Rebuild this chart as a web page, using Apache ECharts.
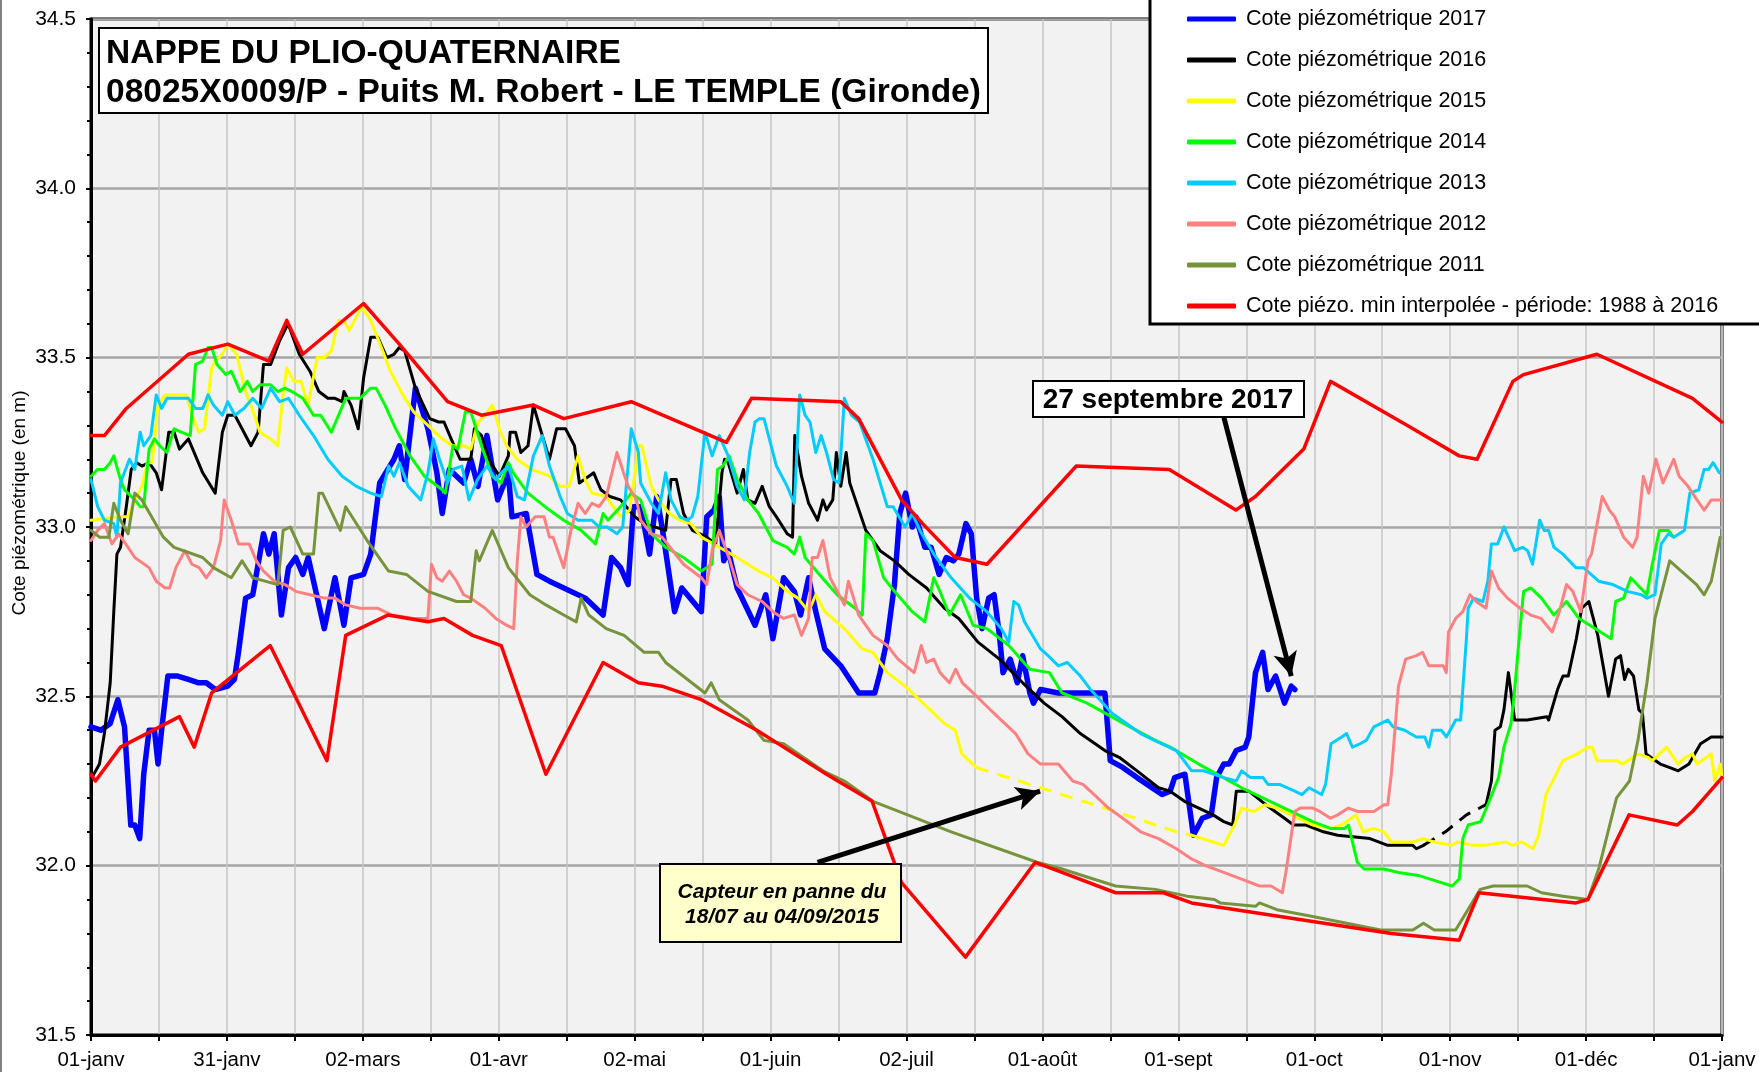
<!DOCTYPE html>
<html>
<head>
<meta charset="utf-8">
<title>Nappe du Plio-Quaternaire - Le Temple</title>
<script src="https://cdn.jsdelivr.net/npm/echarts@6/dist/echarts.min.js"></script>
<style>
    html, body { margin: 0; padding: 0; background: #ffffff; }
    #graphe { width: 1759px; height: 1072px; }
</style>
</head>
<body>
<div id="graphe"></div>
<script>
// axe des x : jours depuis le 01-janv (0 -> 365)
var etiquettesMois = ['01-janv', '31-janv', '02-mars', '01-avr', '02-mai', '01-juin', '02-juil',
    '01-août', '01-sept', '01-oct', '01-nov', '01-déc', '01-janv'];

var nomsLegende = ['Cote piézométrique 2017', 'Cote piézométrique 2016', 'Cote piézométrique 2015',
    'Cote piézométrique 2014', 'Cote piézométrique 2013', 'Cote piézométrique 2012',
    'Cote piézométrique 2011', 'Cote piézo. min interpolée - période: 1988 à 2016'];

// [jour, cote en m]
var cote2017 = [[0,32.41],[2.2,32.40],[4.3,32.42],[6,32.49],[7.5,32.41],[8.9,32.12],[9.8,32.12],[10.9,32.08],[11.8,32.27],[13,32.40],[14.2,32.40],[15,32.30],[15.8,32.40],[17.2,32.56],[19.4,32.56],[21.8,32.55],[24.1,32.54],[25.8,32.54],[27.8,32.52],[30.6,32.53],[32.1,32.55],[33,32.63],[34.6,32.79],[36.2,32.80],[37.4,32.89],[38.6,32.98],[39.8,32.92],[41,32.98],[42.6,32.74],[44.2,32.88],[45.8,32.91],[47.4,32.86],[48.6,32.91],[52.2,32.70],[54.6,32.85],[56.6,32.71],[58.2,32.85],[61,32.86],[62.6,32.92],[64.6,33.13],[67.8,33.20],[69,33.24],[70.2,33.14],[72.6,33.41],[75.4,33.29],[77.4,33.16],[78.6,33.04],[80.2,33.17],[83.4,33.13],[85,33.20],[86.6,33.12],[88.6,33.27],[91,33.08],[93.4,33.16],[94.2,33.03],[97.4,33.04],[99.8,32.86],[102.6,32.84],[110.6,32.79],[114.6,32.74],[116.5,32.91],[118.5,32.88],[120.2,32.83],[121.4,33.06],[123,33.06],[125,32.92],[126.6,33.09],[127.8,33.0],[130.6,32.75],[132.2,32.82],[136.6,32.75],[137.8,33.03],[139.4,33.05],[140.6,33.09],[141.6,32.90],[142.6,32.93],[144.6,32.82],[148.6,32.71],[151,32.80],[152.6,32.67],[155,32.85],[157.4,32.81],[158.8,32.74],[160.6,32.85],[162.2,32.75],[164.2,32.64],[167.8,32.59],[171.8,32.51],[175.4,32.51],[176.6,32.57],[178.2,32.67],[179.8,32.83],[181,33.04],[182.3,33.10],[183.8,33.0],[184.6,33.03],[186.6,32.94],[188,32.94],[189.8,32.86],[191.4,32.91],[193,32.90],[194.2,32.92],[195.8,33.01],[197,32.98],[198.2,32.79],[199.4,32.70],[200.9,32.79],[202.1,32.80],[203.3,32.68],[204.1,32.57],[205.7,32.61],[207.3,32.54],[208.5,32.62],[210.1,32.51],[210.9,32.48],[212.5,32.52],[216.5,32.51],[226.9,32.51],[228.1,32.31],[230.9,32.29],[234.1,32.26],[239.7,32.21],[241.5,32.22],[242.5,32.26],[244.8,32.27],[246.7,32.09],[248.7,32.14],[250.7,32.15],[251.9,32.26],[253.5,32.30],[254.7,32.30],[256.3,32.34],[258.3,32.35],[259.1,32.38],[260.6,32.57],[262.2,32.63],[263.4,32.52],[265.1,32.56],[267.1,32.48],[268.6,32.53],[269.4,32.52]];

var cote2016 = [[0.2,32.26],[1.9,32.30],[3,32.39],[4.3,32.54],[5.1,32.75],[5.8,32.92],[6.6,32.94],[7.9,33.06],[9,33.17],[10.2,33.19],[11.4,33.18],[13,33.19],[14.6,33.16],[15.8,33.11],[17.4,33.28],[18.6,33.28],[19.8,33.23],[21.8,33.26],[25,33.16],[27.8,33.10],[29.4,33.28],[30.6,33.33],[32.2,33.33],[33.8,33.29],[35.8,33.24],[37.4,33.28],[38.6,33.48],[40.2,33.48],[42.2,33.55],[44.1,33.60],[46.6,33.51],[49,33.46],[51,33.40],[53,33.38],[54.6,33.38],[56.2,33.37],[56.6,33.40],[58.2,33.36],[59.8,33.29],[61,33.44],[62.6,33.56],[64.2,33.56],[66.2,33.50],[67.8,33.51],[69,33.53],[70.2,33.52],[72.6,33.41],[75.8,33.32],[77.8,33.31],[79,33.31],[80.6,33.26],[82.6,33.20],[85,33.20],[85.8,33.29],[87.4,33.27],[89,33.20],[91.4,33.15],[93.4,33.21],[93.8,33.28],[95,33.28],[96.2,33.22],[97.8,33.24],[99,33.36],[101,33.27],[102.6,33.20],[104.2,33.29],[106.2,33.29],[108.2,33.24],[109.3,33.13],[112.5,33.16],[114.1,33.11],[116.1,33.09],[118.5,33.08],[121.7,33.03],[123.8,33.01],[128.6,32.99],[129.8,33.14],[131,33.14],[132.6,33.04],[134.6,32.99],[137.8,32.97],[139.8,32.95],[141.2,33.16],[141.8,33.20],[142.6,33.19],[144.6,33.10],[146,33.17],[147,33.08],[148.6,33.07],[150.2,33.12],[151.8,33.06],[153.4,33.03],[155.8,32.98],[157,32.97],[157.5,33.27],[159,33.15],[160.6,33.07],[162.6,33.02],[163.8,33.08],[164.6,33.05],[166,33.08],[166.8,33.22],[167.8,33.12],[169,33.22],[169.8,33.13],[173.4,32.99],[176.6,32.93],[179.8,32.90],[183,32.86],[187,32.82],[191,32.76],[194.2,32.73],[198.5,32.66],[203.3,32.61],[208.5,32.54],[213.3,32.48],[217.3,32.44],[221.4,32.39],[226.9,32.34],[230.1,32.32],[234.1,32.28],[238.9,32.23],[241.5,32.22],[244.7,32.19],[247.9,32.17],[251.1,32.15],[253.5,32.13],[255.5,32.12],[256.3,32.22],[259.1,32.22],[263.9,32.17],[267.1,32.14],[269.1,32.12],[271.9,32.12],[275.8,32.10],[279,32.09],[286.2,32.08],[290.2,32.06],[295.8,32.06],[296.6,32.05],[298.2,32.06],null,[312.2,32.18],[313.4,32.25],[314.2,32.40],[315.4,32.41],[316.2,32.46],[317.2,32.57],[318.6,32.43],[321.4,32.43],[325.8,32.44],[326.2,32.43],[328.2,32.52],[329.4,32.56],[330.6,32.56],[332.4,32.67],[333.6,32.76],[335.2,32.78],[337.2,32.68],[339.6,32.50],[341.2,32.61],[342.3,32.62],[343.2,32.55],[344,32.58],[345.2,32.56],[346.4,32.46],[347.2,32.45],[348,32.33],[351.2,32.30],[353.2,32.29],[355.2,32.28],[357.6,32.30],[360.2,32.36],[362.6,32.38],[365,32.38]];
var panne2016 = [[298.2,32.06],[303.1,32.10],[307.8,32.15],[312.2,32.18]];

var cote2015 = [[0,33.02],[6.2,33.03],[8.3,33.03],[9.8,33.08],[11.4,33.12],[12.6,33.19],[13.7,33.19],[15,33.36],[16.6,33.39],[19.4,33.39],[21.4,33.39],[22.6,33.33],[24.1,33.28],[25.4,33.29],[27,33.47],[27.8,33.49],[29.4,33.51],[30.6,33.54],[32.6,33.51],[34.6,33.40],[36.6,33.33],[37.8,33.28],[40.2,33.26],[41.8,33.24],[43,33.39],[43.8,33.47],[45.4,33.43],[47,33.43],[48.6,33.36],[50.6,33.50],[52.2,33.50],[53.8,33.52],[55.4,33.61],[56.6,33.61],[57.8,33.58],[60.6,33.65],[62.6,33.61],[65,33.53],[67,33.46],[69.8,33.39],[72.2,33.34],[75.4,33.30],[78.6,33.26],[81,33.24],[83.4,33.24],[85,33.23],[86.6,33.31],[88.2,33.33],[89.8,33.36],[91.4,33.29],[93,33.24],[95.4,33.20],[98.6,33.17],[102.6,33.15],[105,33.12],[107,33.12],[109,33.21],[110.6,33.14],[112.1,33.10],[115.3,33.09],[118.5,33.03],[120.6,33.05],[122.6,33.24],[123.3,33.24],[125.4,33.12],[127,33.08],[129.4,33.04],[131.8,33.02],[134.2,33.01],[136.6,32.97],[140.6,32.94],[144.6,32.91],[149.4,32.87],[152.6,32.85],[155.8,32.81],[158.2,32.79],[160.6,32.75],[162.2,32.80],[164.2,32.75],[168.6,32.70],[172.6,32.64],[175,32.63],[178.2,32.57],[182.2,32.53],[187,32.47],[191,32.42],[193.4,32.40],[194.9,32.33],[198.1,32.29],null,[246.3,32.09],[248.7,32.08],[251.1,32.07],[253.5,32.06],[254.7,32.09],[255.9,32.12],[257.5,32.17],[260.3,32.16],[262.7,32.18],[265.4,32.17],[268.6,32.15],[273.5,32.12],[277.5,32.11],[279.9,32.12],[283.1,32.15],[284.7,32.10],[287.1,32.11],[289.4,32.10],[291,32.07],[295.8,32.07],[298.2,32.08],[300.6,32.07],[304.6,32.06],[305.8,32.07],[309.4,32.06],[311.9,32.06],[316.7,32.07],[318.1,32.06],[320.2,32.07],[322.7,32.05],[324,32.09],[325.6,32.21],[329.4,32.31],[332.6,32.33],[335,32.35],[336,32.35],[337,32.31],[341.4,32.31],[342.8,32.30],[346.2,32.33],[348.4,32.32],[349.4,32.31],[351,32.33],[352.6,32.35],[355.2,32.30],[356.8,32.32],[358.4,32.33],[359.4,32.30],[362.6,32.33],[363.4,32.25],[364.6,32.30],[365,32.26]];
var panne2015 = [[198.1,32.29],[212.5,32.23],[226.9,32.17],[242.9,32.10],[246.3,32.09]];

var cote2014 = [[0,33.15],[1.5,33.17],[3,33.17],[4.3,33.19],[5.1,33.21],[6.6,33.14],[7.5,33.11],[9.8,33.08],[11,33.06],[11.8,33.06],[13,33.23],[14.2,33.26],[15.4,33.24],[17,33.22],[18.6,33.29],[20.2,33.28],[22.2,33.27],[23.4,33.48],[25,33.49],[26.2,33.53],[27,33.53],[28.2,33.48],[30.2,33.45],[31.4,33.46],[33.4,33.40],[35,33.43],[36.2,33.40],[37.8,33.42],[40.2,33.42],[41.8,33.40],[43.4,33.41],[45,33.40],[47.4,33.38],[49.8,33.33],[51.4,33.33],[53.8,33.28],[55.4,33.33],[57,33.38],[60.2,33.38],[62.6,33.41],[63.8,33.41],[65.8,33.36],[68.2,33.29],[71.4,33.21],[74.6,33.15],[78.6,33.11],[79.3,33.10],[81,33.24],[82.1,33.23],[83.8,33.34],[85,33.34],[87.4,33.24],[89.8,33.15],[91.8,33.13],[93.4,33.19],[94.5,33.16],[97.8,33.10],[102.6,33.05],[105.8,33.02],[109.7,32.99],[112.9,32.95],[114.6,33.04],[115.7,33.02],[118.5,33.06],[120.9,33.10],[123,33.08],[125.4,32.98],[128.6,32.94],[132.6,32.91],[136.6,32.87],[139,32.89],[140.2,33.17],[141.4,33.18],[142.8,33.21],[144.6,33.14],[147,33.08],[149.4,33.04],[152.6,32.96],[155.8,32.94],[157.4,32.92],[158.6,32.97],[159.8,32.91],[163,32.86],[167,32.80],[171,32.76],[172.6,32.74],[173.4,32.98],[175,32.96],[177.4,32.85],[179.8,32.81],[183.8,32.75],[186.6,32.72],[188.6,32.85],[190,32.81],[192.1,32.74],[194.6,32.80],[197.4,32.71],[200.5,32.70],[205.4,32.65],[210.1,32.58],[214.5,32.57],[217.3,32.51],[222.9,32.48],[232.5,32.41],[238.2,32.37],[241.5,32.35],[247.9,32.30],[257.5,32.23],[265.4,32.18],[273.4,32.13],[277.4,32.11],[280.6,32.11],[281.4,32.12],[283.4,32.01],[284.9,31.99],[289.4,31.99],[292.6,31.98],[297.4,31.97],[302.2,31.95],[304.6,31.94],[306.2,31.96],[307,32.08],[308.2,32.12],[311,32.13],[312.6,32.18],[315,32.26],[316.2,32.35],[317.8,32.42],[318.6,32.52],[319.4,32.64],[320.6,32.81],[322.2,32.82],[324.6,32.79],[327.4,32.74],[330.2,32.78],[333,32.73],[336.6,32.70],[340.2,32.67],[341.2,32.78],[343,32.79],[344.6,32.85],[348.2,32.80],[349.4,32.89],[351,32.99],[353,32.99],[354.2,32.97]];

var cote2013 = [[0,33.14],[1.5,33.06],[3,33.02],[5.1,33.01],[5.8,32.97],[6.6,33.13],[8.6,33.20],[9.8,33.17],[11,33.28],[11.8,33.24],[13.4,33.27],[14.6,33.39],[15.8,33.35],[17,33.38],[19.4,33.38],[21.8,33.38],[23.4,33.35],[25,33.35],[26.2,33.39],[27.4,33.36],[29.4,33.33],[30.6,33.37],[32.2,33.33],[34.2,33.35],[36.2,33.38],[38.2,33.35],[40.2,33.41],[42.2,33.37],[44.2,33.38],[46.6,33.33],[49.8,33.27],[53,33.20],[56.2,33.15],[59.4,33.12],[62.6,33.10],[65,33.09],[66.6,33.18],[67.8,33.15],[69,33.19],[71,33.12],[73.8,33.08],[75.4,33.16],[76.6,33.26],[78,33.20],[79.8,33.13],[81,33.17],[83,33.18],[84.6,33.08],[86.5,33.14],[88.6,33.18],[90.6,33.14],[91.8,33.16],[93.4,33.18],[95.4,33.09],[97,33.08],[99,33.21],[101,33.27],[102.6,33.18],[105,33.09],[106.6,33.04],[109,33.02],[112.1,33.02],[113.7,33.00],[115.5,33.00],[117.7,32.98],[119,33.0],[120.9,33.29],[122.5,33.22],[123,33.13],[125.4,33.07],[127,33.04],[128.6,33.16],[129.8,33.08],[131.8,33.03],[133.4,33.02],[134.5,33.03],[135.8,33.09],[137.4,33.28],[139,33.21],[140.6,33.27],[142.6,33.21],[144.6,33.12],[146.2,33.08],[147.4,33.22],[148.6,33.31],[149.6,33.32],[150.6,33.32],[151.8,33.26],[153.4,33.18],[155.8,33.12],[157.4,33.07],[158.6,33.39],[159.8,33.33],[160.9,33.31],[162.2,33.22],[163.4,33.27],[164.6,33.22],[166.2,33.14],[167.4,33.13],[168.6,33.38],[170.2,33.33],[172,33.31],[175,33.20],[178.2,33.06],[179.5,33.06],[182.2,33.00],[183.8,33.04],[185.5,32.99],[188.6,32.92],[192.5,32.85],[196.6,32.79],[200.5,32.75],[203.7,32.70],[205.4,32.66],[206.5,32.78],[207.6,32.77],[208.9,32.72],[212.5,32.64],[214.2,32.62],[216.5,32.59],[218.5,32.60],[221.4,32.56],[223.7,32.52],[228.5,32.45],[234.9,32.39],[238,32.37],[242.9,32.34],[246.3,32.28],[249,32.28],[253.5,32.26],[256.3,32.25],[257.5,32.28],[259.5,32.26],[262.3,32.26],[263.4,32.24],[266,32.24],[269.4,32.22],[271,32.21],[272.6,32.23],[275.4,32.21],[276.3,32.24],[277.5,32.36],[279.9,32.38],[281,32.39],[282.3,32.35],[284,32.36],[285.4,32.37],[287.1,32.41],[290.2,32.43],[291.4,32.41],[294,32.40],[296.6,32.38],[298.5,32.38],[299.4,32.35],[300.2,32.40],[302.2,32.40],[303.3,32.38],[304.6,32.41],[305.4,32.43],[306.5,32.43],[307.8,32.67],[308.2,32.76],[309.4,32.79],[311.5,32.78],[312.6,32.84],[313.4,32.95],[314.8,32.95],[316.2,33.0],[317.6,32.96],[318.6,32.93],[320.4,32.94],[321.5,32.93],[322.6,32.89],[324.2,33.02],[325.2,32.99],[326.2,32.99],[327.4,32.94],[329.4,32.92],[332.3,32.88],[334,32.88],[337.4,32.84],[340.6,32.83],[343.8,32.81],[347,32.80],[348.2,32.79],[350,32.80],[351.4,32.95],[353,32.98],[354.2,32.97],[356.6,32.99],[357.8,33.10],[359.8,33.11],[361,33.17],[362,33.17],[363,33.19],[364.4,33.16]];

var cote2012 = [[0,32.96],[1.5,32.99],[3,33.01],[4.7,32.95],[6.2,32.98],[8.3,32.94],[9.8,32.91],[13,32.88],[14.6,32.84],[16.6,32.82],[17.6,32.82],[19,32.88],[21,32.93],[22.6,32.89],[24.2,32.88],[25.8,32.85],[27.4,32.88],[29,32.96],[29.8,33.08],[31.4,33.02],[33,32.95],[34,32.95],[35.4,32.95],[37,32.90],[38.6,32.87],[41,32.84],[43.4,32.83],[45.8,32.81],[49,32.80],[52.2,32.79],[54.6,32.79],[57,32.77],[60.2,32.76],[64.2,32.76],[67.4,32.74],[72.2,32.73],[75.4,32.73],[76.2,32.89],[77.4,32.85],[78.6,32.84],[80.2,32.87],[81.8,32.84],[83.4,32.80],[85,32.79],[88.2,32.76],[90.6,32.73],[93,32.71],[94.6,32.70],[95.4,32.90],[96.2,33.03],[97.4,33.0],[99.4,33.03],[101.4,33.03],[102.6,32.97],[103.4,32.97],[105.8,32.88],[107.4,32.99],[109,33.07],[110.6,33.04],[112.1,33.07],[113.7,33.06],[115.3,33.09],[117.7,33.22],[120.2,33.12],[122.1,33.08],[123,33.02],[125.4,32.98],[127.8,32.97],[130.2,32.93],[132.6,32.89],[136.6,32.85],[137.8,32.83],[139,32.93],[140.6,32.99],[143,32.90],[144.6,32.83],[147,32.80],[150.2,32.78],[152.6,32.75],[155,32.73],[157.4,32.74],[159,32.68],[160.6,32.73],[161.4,32.91],[162.6,32.91],[163.8,32.96],[165.4,32.85],[168.6,32.77],[169.5,32.84],[171.8,32.74],[175,32.68],[178.2,32.65],[180.6,32.61],[184.2,32.57],[185.8,32.65],[187,32.60],[188.6,32.61],[190,32.57],[192.1,32.54],[193.5,32.58],[195,32.54],[197.4,32.51],[200.5,32.47],[203.7,32.43],[206.9,32.39],[209.7,32.33],[212.5,32.30],[216.5,32.30],[219.7,32.25],[222,32.24],[224.5,32.21],[227.7,32.17],[230.9,32.14],[234.9,32.10],[238.9,32.08],[242.9,32.05],[246.3,32.02],[249.4,32.0],[253.5,31.98],[257.5,31.96],[261.5,31.94],[264.1,31.94],[266.6,31.92],[267.4,31.98],[269.4,32.16],[270.6,32.17],[273.4,32.17],[275,32.16],[277.4,32.14],[279,32.15],[281.4,32.17],[283.5,32.16],[287.1,32.16],[289.4,32.18],[290.2,32.18],[291,32.27],[292.6,32.53],[294.2,32.61],[296.6,32.62],[298,32.63],[299.4,32.59],[302.6,32.59],[303.3,32.57],[303.8,32.69],[305.4,32.73],[307,32.75],[308.6,32.80],[310,32.78],[312.2,32.76],[313.4,32.87],[315,32.82],[317,32.79],[319.8,32.76],[322.2,32.74],[324.5,32.73],[327,32.69],[328.6,32.75],[330.2,32.83],[331.6,32.81],[333.4,32.75],[335,32.90],[335.8,32.92],[338.2,33.09],[339.8,33.05],[341,33.03],[343,32.97],[345,32.94],[346,32.97],[347.4,33.15],[348.6,33.10],[350.2,33.20],[351.8,33.13],[354.2,33.20],[355.4,33.15],[357.4,33.12],[359.4,33.08],[361,33.05],[362.6,33.08],[365,33.08]];

var cote2011 = [[0,32.99],[1.9,32.97],[4,32.97],[5.1,33.07],[6.6,33.02],[8.3,32.98],[9.8,33.10],[11.4,33.08],[16.2,32.97],[18.6,32.94],[25,32.91],[27.4,32.88],[31.4,32.85],[33.8,32.90],[36.2,32.85],[41.8,32.83],[43,32.99],[44.6,33.0],[47.4,32.92],[49.8,32.92],[51,33.10],[51.8,33.10],[55.8,32.99],[57,33.06],[61.8,32.96],[66.6,32.87],[70.6,32.86],[75.4,32.81],[81.8,32.78],[85,32.78],[86.2,32.93],[86.9,32.90],[89.8,32.99],[93.4,32.88],[98.2,32.80],[101.8,32.77],[105.8,32.74],[108.6,32.72],[109.7,32.79],[111.4,32.74],[115.3,32.70],[119.3,32.68],[123.8,32.63],[127,32.63],[128.6,32.60],[137.4,32.51],[138.8,32.54],[140.6,32.49],[147,32.43],[150.6,32.37],[155,32.36],[163.8,32.28],[168.6,32.25],[175,32.19],[192.5,32.10],[211.7,32.01],[217.3,31.99],[224.5,31.96],[229.3,31.94],[238.2,31.93],[245.3,31.91],[251.4,31.90],[252.7,31.89],[260.6,31.88],[261.5,31.89],[265.4,31.87],[273.4,31.85],[288.6,31.81],[295.8,31.81],[298.2,31.83],[300.6,31.81],[305.4,31.81],[310.9,31.93],[313.8,31.94],[321.4,31.94],[324.6,31.92],[329.4,31.91],[335,31.90],[337.4,31.99],[341.4,32.20],[344.3,32.25],[346.2,32.37],[348.2,32.54],[350,32.73],[353.3,32.90],[359.3,32.83],[361,32.80],[362.6,32.84],[364.6,32.97]];

var coteMin = [[0,32.27],[1,32.25],[6.6,32.35],[19.8,32.44],[23.1,32.35],[27,32.51],[40.1,32.65],[52.8,32.31],[57,32.68],[66.4,32.74],[75.4,32.72],[79,32.73],[85.4,32.68],[91.8,32.65],[101.8,32.27],[114.6,32.6],[122.5,32.54],[127.8,32.53],[136.6,32.49],[149,32.4],[155,32.35],[164.6,32.27],[174.8,32.19],[181.4,31.95],[195.7,31.73],[211.3,32.01],[217.3,31.98],[229.3,31.92],[240,31.92],[246.3,31.89],[291,31.8],[306.2,31.78],[310.6,31.92],[332.3,31.89],[335,31.9],[344.2,32.15],[355,32.12],[358.4,32.16],[365,32.26]];

var coteMax = [[0,33.27],[3,33.27],[7.9,33.35],[21.8,33.51],[30.6,33.54],[39.8,33.49],[43.8,33.61],[47.4,33.51],[61,33.66],[69,33.54],[79.8,33.37],[87.4,33.33],[99,33.36],[105.8,33.32],[120.9,33.37],[142.2,33.25],[147.8,33.38],[167.8,33.37],[171.8,33.32],[181.4,33.08],[186.1,33.01],[193.4,32.91],[200.5,32.89],[220.5,33.18],[241.3,33.17],[256.2,33.05],[260.6,33.09],[271.4,33.23],[277.4,33.43],[294.6,33.3],[306.2,33.21],[310.2,33.2],[318.2,33.43],[320.6,33.45],[337,33.51],[358.4,33.38],[365,33.31]];

// flèches : [jour, cote] départ -> arrivée
var flecheSeptembre = [[253.4, 33.33], [268.6, 32.56]];
var flechePanne = [[162.6, 32.01], [212.4, 32.22]];

var POLICE = '"Liberation Sans", Arial, sans-serif';

function courbe(nom, donnees, couleur, epaisseur, tirets) {
    return {
        name: nom,
        type: 'line',
        data: donnees,
        showSymbol: false,
        symbol: 'none',
        connectNulls: false,
        animation: false,
        emphasis: { disabled: true },
        itemStyle: { color: couleur },
        lineStyle: {
            color: couleur,
            width: epaisseur,
            type: tirets ? [13, 9] : 'solid',
            cap: tirets ? 'butt' : 'round',
            join: 'round'
        }
    };
}

function dessinerGraphe() {
    var monGraphe = echarts.init(document.getElementById('graphe'), null, { renderer: 'canvas' });

    var serieMin = courbe(nomsLegende[7], coteMin, '#ff0000', 3.5);
    serieMin.markLine = {
        silent: true,
        symbol: ['none', 'arrow'],
        symbolSize: [18, 24],
        label: { show: false },
        lineStyle: { color: '#000000', width: 5, type: 'solid' },
        data: [
            [{ coord: flecheSeptembre[0] }, { coord: flecheSeptembre[1] }],
            [{ coord: flechePanne[0] }, { coord: flechePanne[1] }]
        ]
    };

    var option = {
        backgroundColor: '#ffffff',
        animation: false,
        grid: {
            left: 91,
            right: 37,
            top: 19,
            bottom: 37,
            outerBoundsMode: 'none',
            containLabel: false,
            show: true,
            backgroundColor: '#f2f2f2',
            borderColor: '#000000',
            borderWidth: 3
        },
        legend: {
            data: nomsLegende,
            orient: 'vertical',
            left: 1187,
            top: 8,
            padding: 0,
            itemWidth: 49,
            itemHeight: 5,
            itemGap: 19,
            icon: 'roundRect',
            selectedMode: false,
            z: 6,
            textStyle: {
                fontFamily: POLICE,
                fontSize: 21.5,
                color: '#000000',
                lineHeight: 22,
                padding: [0, 0, 0, 5]
            }
        },
        xAxis: {
            type: 'value',
            min: 0,
            max: 365,
            interval: 365 / 24,
            axisLine: { lineStyle: { color: '#000000', width: 3 } },
            axisTick: { show: true, length: 6, lineStyle: { color: '#000000', width: 2 } },
            axisLabel: {
                showMinLabel: true,
                showMaxLabel: true,
                margin: 15,
                color: '#000000',
                fontFamily: POLICE,
                fontSize: 20.5,
                formatter: function (val) {
                    var k = Math.round(val * 24 / 365);
                    return k % 2 === 0 ? etiquettesMois[k / 2] : '';
                }
            },
            splitLine: { show: true, lineStyle: { color: '#c4c4c4', width: 1.5 } }
        },
        yAxis: {
            type: 'value',
            min: 31.5,
            max: 34.5,
            interval: 0.5,
            axisLine: { show: true, lineStyle: { color: '#000000', width: 3 } },
            axisTick: { show: true, length: 5, lineStyle: { color: '#000000', width: 2 } },
            minorTick: { show: true, splitNumber: 5, length: 4, lineStyle: { color: '#000000', width: 2 } },
            axisLabel: {
                margin: 15,
                color: '#000000',
                fontFamily: POLICE,
                fontSize: 21,
                formatter: function (val) {
                    return val.toFixed(1);
                }
            },
            splitLine: { show: true, lineStyle: { color: '#a6a6a6', width: 2.5 } }
        },
        graphic: [
            // trait gauche du cadre général
            { type: 'line', z: 0, shape: { x1: 1, y1: 0, x2: 1, y2: 1072 },
              style: { stroke: '#808080', lineWidth: 2 } },
            // titre de l'axe vertical
            { type: 'text', z: 2, x: 20, y: 503, rotation: Math.PI / 2,
              style: { text: 'Cote piézométrique (en m)', fill: '#000000', font: '19px ' + POLICE,
                       textAlign: 'center', align: 'center', textVerticalAlign: 'middle', verticalAlign: 'middle' } },
            // titre
            { type: 'rect', z: 1, shape: { x: 99, y: 28, width: 889, height: 85 },
              style: { fill: '#ffffff', stroke: '#000000', lineWidth: 2 } },
            { type: 'text', z: 2, x: 106, y: 54,
              style: { text: 'NAPPE DU PLIO-QUATERNAIRE', fill: '#000000',
                       font: 'bold 33.5px ' + POLICE, textVerticalAlign: 'middle', verticalAlign: 'middle' } },
            { type: 'text', z: 2, x: 106, y: 93,
              style: { text: '08025X0009/P - Puits M. Robert - LE TEMPLE (Gironde)', fill: '#000000',
                       font: 'bold 33.5px ' + POLICE, textVerticalAlign: 'middle', verticalAlign: 'middle' } },
            // cadre de la légende
            { type: 'rect', z: 1, shape: { x: 1150, y: -10, width: 700, height: 334 },
              style: { fill: '#ffffff', stroke: '#000000', lineWidth: 3 } },
            // 27 septembre 2017
            { type: 'rect', z: 10, shape: { x: 1033, y: 381, width: 271, height: 36 },
              style: { fill: '#ffffff', stroke: '#000000', lineWidth: 2 } },
            { type: 'text', z: 11, x: 1168, y: 400,
              style: { text: '27 septembre 2017', fill: '#000000', font: 'bold 28px ' + POLICE,
                       textAlign: 'center', align: 'center', textVerticalAlign: 'middle', verticalAlign: 'middle' } },
            // capteur en panne
            { type: 'rect', z: 10, shape: { x: 660, y: 864, width: 241, height: 78 },
              style: { fill: '#ffffcc', stroke: '#000000', lineWidth: 2 } },
            { type: 'text', z: 11, x: 782, y: 892,
              style: { text: 'Capteur en panne du', fill: '#000000', font: 'italic bold 21px ' + POLICE,
                       textAlign: 'center', align: 'center', textVerticalAlign: 'middle', verticalAlign: 'middle' } },
            { type: 'text', z: 11, x: 782, y: 917,
              style: { text: '18/07 au 04/09/2015', fill: '#000000', font: 'italic bold 21px ' + POLICE,
                       textAlign: 'center', align: 'center', textVerticalAlign: 'middle', verticalAlign: 'middle' } }
        ],
        series: [
            courbe(nomsLegende[0], cote2017, '#0000ff', 5.5),
            courbe(nomsLegende[1], cote2016, '#000000', 3),
            courbe('Cote 2016 (panne)', panne2016, '#000000', 3, true),
            courbe(nomsLegende[2], cote2015, '#ffff00', 3),
            courbe('Cote 2015 (panne)', panne2015, '#ffff00', 3, true),
            courbe(nomsLegende[3], cote2014, '#00ff00', 3),
            courbe(nomsLegende[4], cote2013, '#00ccff', 3),
            courbe(nomsLegende[5], cote2012, '#ff8080', 3),
            courbe(nomsLegende[6], cote2011, '#77933c', 3),
            courbe('Cote piézo. max interpolée', coteMax, '#ff0000', 3.5),
            serieMin
        ]
    };

    monGraphe.setOption(option);
}

dessinerGraphe();
</script>
</body>
</html>
